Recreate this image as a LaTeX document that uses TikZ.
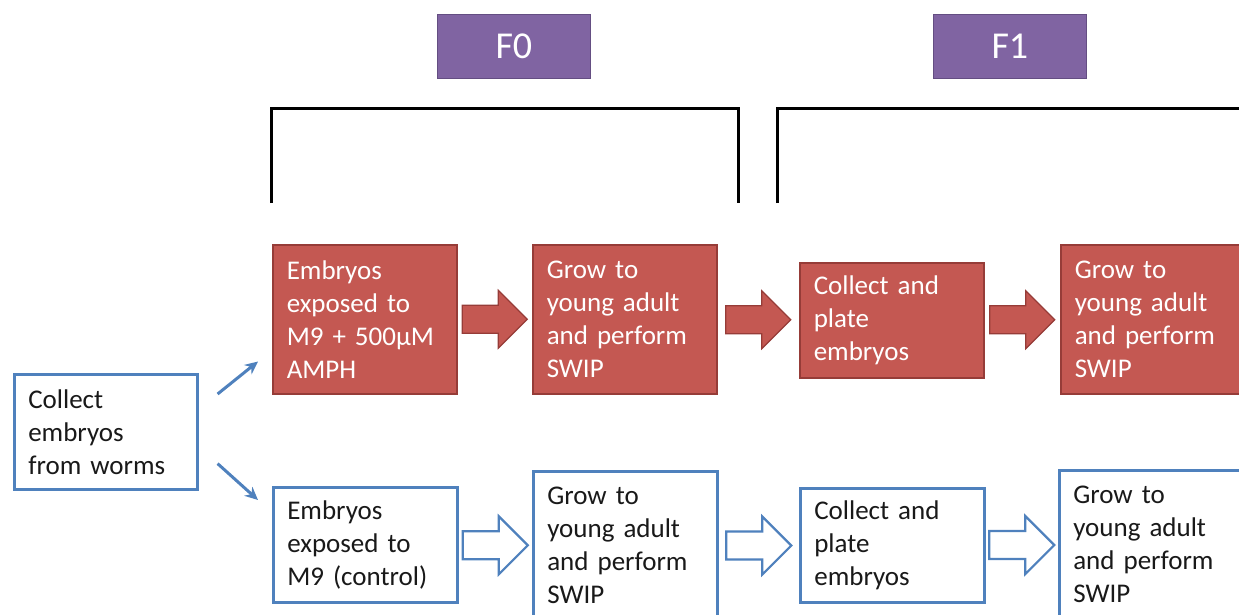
\documentclass[tikz,border=0pt]{standalone}
\usepackage{fontspec}
\setmainfont{Carlito}
\usetikzlibrary{calc,arrows.meta}
\definecolor{offred}{RGB}{196,88,82}
\definecolor{redline}{RGB}{150,60,56}
\definecolor{offblue}{RGB}{79,129,189}
\definecolor{offpurple}{RGB}{128,100,162}
\definecolor{purpleline}{RGB}{100,78,130}
\begin{document}
\begin{tikzpicture}[x=1pt,y=-1pt,
  box/.style={rectangle, anchor=north west, inner xsep=14pt, inner ysep=0pt,
    text width=156pt, minimum width=184pt, align=left,
    font=\fontsize{27}{33}\selectfont},
  redbox/.style={box, fill=offred, draw=redline, line width=1.5pt, text=white},
  bluebox/.style={box, fill=white, draw=offblue, line width=2.6pt, text=black!90},
  genbox/.style={rectangle, anchor=north west, minimum width=153pt, minimum height=64pt,
    fill=offpurple, draw=purpleline, line width=0.8pt, text=white,
    font=\fontsize{38}{44}\selectfont},
  bracket/.style={draw=black, line width=3pt, line join=miter},
  redarr/.style={fill=offred, draw=redline, line width=1.2pt},
  bluearr/.style={fill=white, draw=offblue, line width=2.2pt},
  diag/.style={draw=offblue, line width=3pt, -{Stealth[length=13pt,width=12pt]}},
  blockarr/.pic={\path[pic actions] (-32.5,-14) -- (3.5,-14) -- (3.5,-29) -- (32.5,0)
    -- (3.5,29) -- (3.5,14) -- (-32.5,14) -- cycle;}
]
\useasboundingbox (0,0) rectangle (1239,614);
\clip (0,0) rectangle (1239,614);

% generation labels
\node[genbox] (f0) at (437,14) {F0};
\node[genbox] (f1) at (933,14) {F1};

% brackets
\coordinate (b0a) at (271,203);
\coordinate (b0b) at (271,108);
\coordinate (b0c) at (738,108);
\coordinate (b0d) at (738,203);
\coordinate (b1a) at (777,203);
\coordinate (b1b) at (777,108);
\coordinate (b1c) at (1250,108);
\draw[bracket] (b0a) -- (b0b) -- (b0c) -- (b0d);
\draw[bracket] (b1a) -- (b1b) -- (b1c);

% left box
\node[bluebox, minimum width=183pt, text width=155pt, minimum height=115pt] (lb) at (13,373)
  {Collect\\embryos\\from worms};

% top row (AMPH)
\node[redbox, minimum height=149pt] (r1) at (272,244)
  {Embryos\\exposed to\\M9 + 500µM\\AMPH};
\node[redbox, minimum height=149pt] (r2) at (532,244)
  {Grow to\\young adult\\and perform\\SWIP};
\node[redbox, minimum height=115pt] (r3) at (799,262)
  {Collect and\\plate\\embryos};
\node[redbox, minimum height=149pt] (r4) at (1060,244)
  {Grow to\\young adult\\and perform\\SWIP};

% bottom row (control)
\node[bluebox, minimum height=115pt] (c1) at (272,486)
  {Embryos\\exposed to\\M9 (control)};
\node[bluebox, minimum height=149pt] (c2) at (532,470)
  {Grow to\\young adult\\and perform\\SWIP};
\node[bluebox, minimum height=114pt] (c3) at (799,487)
  {Collect and\\plate\\embryos};
\node[bluebox, minimum height=149pt] (c4) at (1058,469)
  {Grow to\\young adult\\and perform\\SWIP};

% block arrows
\pic[redarr] at ($(r1.east)!0.5!(r2.west)$) {blockarr};
\pic[redarr] at ($(r2.east)!0.5!(r3.west)$) {blockarr};
\pic[redarr] at ($(r3.east)!0.5!(r4.west)$) {blockarr};
\pic[bluearr] at ($(c1.east)!0.5!(c2.west)$) {blockarr};
\pic[bluearr] at ($(c2.east)!0.5!(c3.west)$) {blockarr};
\pic[bluearr] at ($(c3.east)!0.5!(c4.west)$) {blockarr};

% diagonal arrows from the left box
\coordinate (d1s) at ($(lb.north east)+(19,21)$);
\coordinate (d1e) at ($(r1.south west)+(-14,-33)$);
\coordinate (d2s) at ($(lb.south east)+(19,-27)$);
\coordinate (d2e) at ($(c1.north west)+(-14,14)$);
\draw[diag] (d1s) -- (d1e);
\draw[diag] (d2s) -- (d2e);
\end{tikzpicture}
\end{document}
